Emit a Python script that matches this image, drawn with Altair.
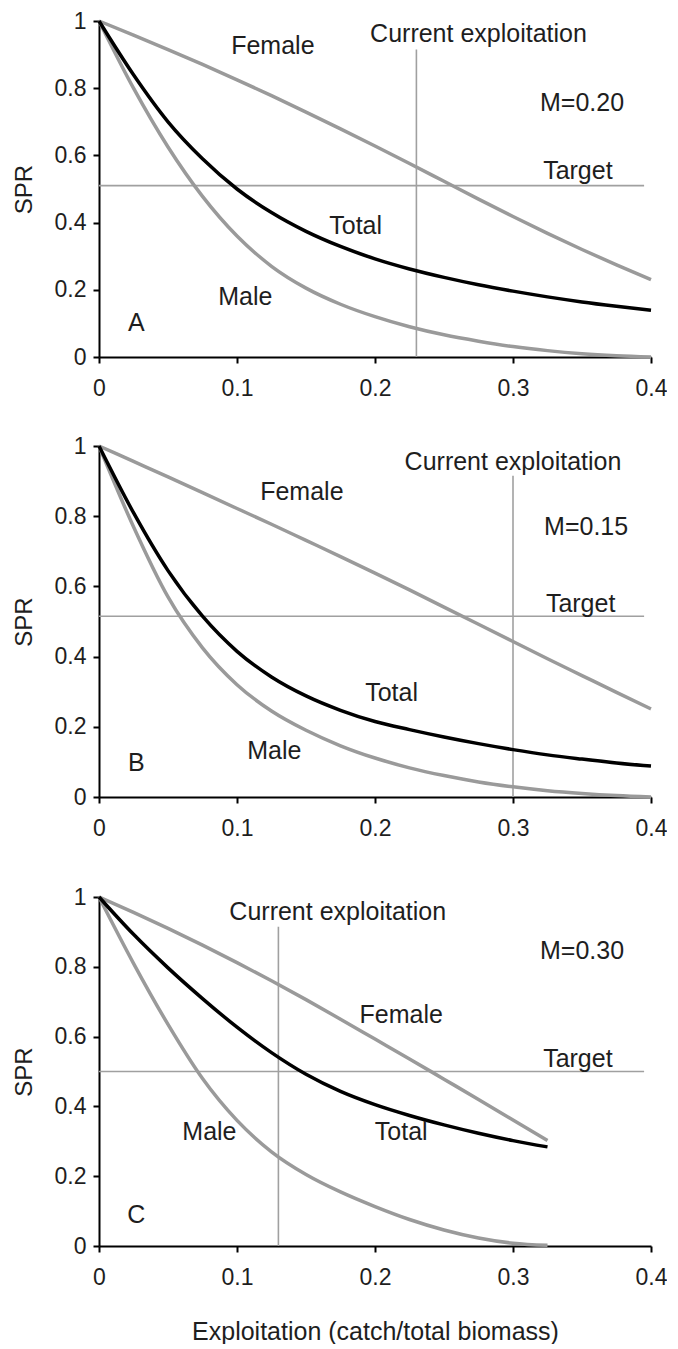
import altair as alt
import pandas as pd

# ---------------- data ----------------
x_full = [0, 0.025, 0.05, 0.075, 0.1, 0.125, 0.15, 0.175, 0.2,
          0.225, 0.25, 0.275, 0.3, 0.325, 0.35, 0.375, 0.4]
x_short = x_full[:14]  # panel C stops at 0.325

a_female = [1, 0.958, 0.915, 0.871, 0.825, 0.778, 0.729, 0.679, 0.628,
            0.576, 0.523, 0.470, 0.418, 0.368, 0.320, 0.274, 0.230]
a_total = [1, 0.84, 0.70, 0.59, 0.50, 0.43, 0.374, 0.329, 0.292,
           0.262, 0.237, 0.215, 0.196, 0.179, 0.164, 0.151, 0.139]
a_male = [1, 0.80, 0.625, 0.478, 0.36, 0.27, 0.205, 0.157, 0.12,
          0.09, 0.066, 0.047, 0.031, 0.019, 0.01, 0.004, 0.0]

b_female = [1, 0.956, 0.912, 0.867, 0.822, 0.777, 0.731, 0.685, 0.638,
            0.590, 0.541, 0.492, 0.443, 0.394, 0.346, 0.298, 0.251]
b_total = [1, 0.81, 0.645, 0.515, 0.415, 0.342, 0.288, 0.247, 0.215,
           0.192, 0.171, 0.152, 0.135, 0.12, 0.108, 0.097, 0.088]
b_male = [1, 0.77, 0.57, 0.425, 0.32, 0.245, 0.19, 0.146, 0.111,
          0.083, 0.061, 0.043, 0.029, 0.018, 0.01, 0.004, 0.0]

c_female = [1, 0.956, 0.910, 0.862, 0.812, 0.760, 0.706, 0.650, 0.593,
            0.536, 0.478, 0.420, 0.361, 0.302]
c_total = [1, 0.893, 0.797, 0.709, 0.627, 0.554, 0.492, 0.443, 0.405,
           0.374, 0.347, 0.323, 0.302, 0.284]
c_male = [1, 0.81, 0.635, 0.48, 0.36, 0.27, 0.205, 0.155, 0.113,
          0.076, 0.046, 0.023, 0.008, 0.002]

series_names = ["Female", "Male", "Total"]
series_colors = ["#9a9a9a", "#9a9a9a", "#000000"]

current_expl = [0.23, 0.30, 0.13]      # vertical "Current exploitation" lines
target_spr = [0.51, 0.515, 0.50]       # horizontal "Target" lines
rule_top = 0.915
target_end = 0.395

# annotation labels: text, x, y for each panel
labels_a = (["Female", "Male", "Total", "A", "Current exploitation", "M=0.20", "Target"],
            [0.126, 0.106, 0.186, 0.027, 0.275, 0.350, 0.347],
            [0.926, 0.179, 0.391, 0.102, 0.962, 0.757, 0.553])
labels_b = (["Female", "Male", "Total", "B", "Current exploitation", "M=0.15", "Target"],
            [0.147, 0.127, 0.212, 0.027, 0.30, 0.353, 0.349],
            [0.869, 0.130, 0.296, 0.096, 0.955, 0.770, 0.551])
labels_c = (["Female", "Male", "Total", "C", "Current exploitation", "M=0.30", "Target"],
            [0.219, 0.080, 0.219, 0.027, 0.173, 0.350, 0.347],
            [0.662, 0.328, 0.328, 0.089, 0.957, 0.845, 0.535])

FONT = "Liberation Sans"
TEXT_COLOR = "#1e1e1e"


def panel(xs, female, male, total, cur, tgt, labels, height, x_title=None):
    rows = []
    for name, vals in zip(series_names, [female, male, total]):
        for xv, yv in zip(xs, vals):
            rows.append({"x": xv, "y": yv, "series": name})
    df = pd.DataFrame(rows)

    x_axis_kw = dict(values=[0, 0.1, 0.2, 0.3, 0.4], format="~g",
                     labelFlush=False, labelPadding=14)
    if x_title:
        x_axis = alt.Axis(title=x_title, titlePadding=30, titleFontSize=25, **x_axis_kw)
    else:
        x_axis = alt.Axis(title=None, **x_axis_kw)

    xs_scale = alt.Scale(domain=[0, 0.4], nice=False, zero=False)
    ys_scale = alt.Scale(domain=[0, 1], nice=False)

    lines = alt.Chart(df).mark_line(strokeWidth=3.5, interpolate="monotone").encode(
        x=alt.X("x:Q", scale=xs_scale, axis=x_axis),
        y=alt.Y("y:Q", scale=ys_scale,
                axis=alt.Axis(title="SPR", values=[0, 0.2, 0.4, 0.6, 0.8, 1],
                              format="~g", labelPadding=7, titlePadding=18)),
        color=alt.Color("series:N",
                        scale=alt.Scale(domain=series_names, range=series_colors),
                        legend=None),
    )

    tdf = pd.DataFrame({"x": [0], "x2": [target_end], "y": [tgt]})
    target_rule = alt.Chart(tdf).mark_rule(color="#a0a0a0", strokeWidth=1.6).encode(
        x="x:Q", x2="x2:Q", y="y:Q")

    cdf = pd.DataFrame({"x": [cur], "y": [0], "y2": [rule_top]})
    cur_rule = alt.Chart(cdf).mark_rule(color="#a0a0a0", strokeWidth=1.6).encode(
        x="x:Q", y="y:Q", y2="y2:Q")

    ldf = pd.DataFrame({"text": labels[0], "x": labels[1], "y": labels[2]})
    texts = alt.Chart(ldf).mark_text(fontSize=25, font=FONT, color=TEXT_COLOR,
                                     align="center", baseline="middle").encode(
        x="x:Q", y="y:Q", text="text:N")

    return alt.layer(target_rule, cur_rule, lines, texts).properties(
        width=552, height=height)


pa = panel(x_full, a_female, a_male, a_total, current_expl[0], target_spr[0], labels_a, 336)
pb = panel(x_full, b_female, b_male, b_total, current_expl[1], target_spr[1], labels_b, 351)
pc = panel(x_short, c_female, c_male, c_total, current_expl[2], target_spr[2], labels_c, 349,
           x_title="Exploitation (catch/total biomass)")

chart = alt.vconcat(alt.vconcat(pa, pb, spacing=35), pc, spacing=46).properties(
    padding={"left": 4, "top": 2, "right": 0, "bottom": 0}
).configure(font=FONT).configure_view(stroke=None).configure_axis(
    grid=False,
    domainColor="#000000", domainWidth=2,
    tickColor="#000000", tickWidth=2, tickSize=6,
    labelFont=FONT, labelFontSize=23, labelColor=TEXT_COLOR,
    titleFont=FONT, titleFontSize=24, titleFontWeight="normal", titleColor=TEXT_COLOR,
)

chart.save("out.html", embed_options={"renderer": "svg", "actions": False})
